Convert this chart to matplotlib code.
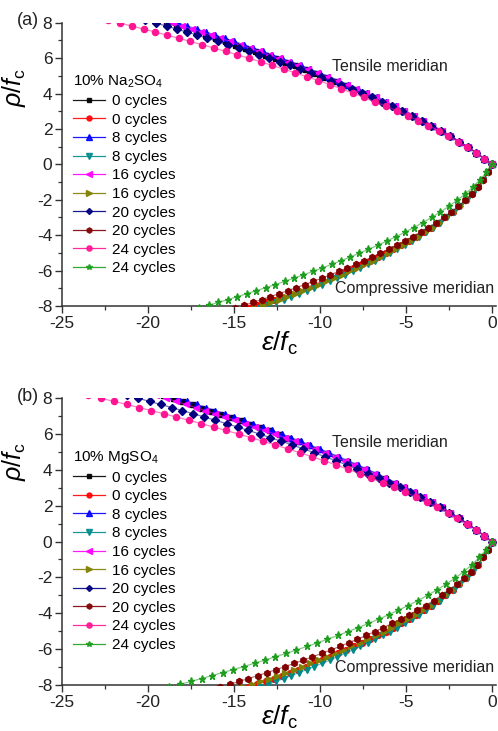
import matplotlib
matplotlib.use('Agg')
import matplotlib.pyplot as plt
from matplotlib.ticker import MultipleLocator

plt.rcParams['font.family'] = ['Liberation Sans', 'DejaVu Sans']
plt.rcParams['mathtext.fontset'] = 'custom'
plt.rcParams['mathtext.rm'] = 'Liberation Sans'
plt.rcParams['mathtext.it'] = 'Liberation Sans:italic'
plt.rcParams['axes.unicode_minus'] = False

# rho/fc levels (tensile meridian, positive) and compressive meridian (negative)
rho_tens = [0, 0.33, 0.66, 0.98, 1.29, 1.6, 1.9, 2.19, 2.47, 2.75, 3.02, 3.28, 3.54, 3.79,
            4.03, 4.27, 4.5, 4.73, 4.95, 5.17, 5.38, 5.59, 5.79, 5.99, 6.19, 6.38, 6.57,
            6.76, 6.94, 7.12, 7.3, 7.47, 7.64, 7.81, 7.98, 8.15]
rho_comp = [0, -0.46, -0.89, -1.3, -1.68, -2.04, -2.38, -2.7, -3.0, -3.29, -3.57, -3.83,
            -4.08, -4.33, -4.57, -4.8, -5.02, -5.24, -5.45, -5.65, -5.85, -6.05, -6.24,
            -6.43, -6.61, -6.79, -6.97, -7.14, -7.31, -7.48, -7.64, -7.8, -7.96, -8.12,
            -8.28, -8.44]

# ---- panel (a) 10% Na2SO4 : eps/fc values ----
na_t0 = [0, -0.44, -0.91, -1.39, -1.89, -2.41, -2.94, -3.48, -4.02, -4.58, -5.14, -5.69, -6.27, -6.84, -7.41, -7.99, -8.56, -9.14, -9.72, -10.30, -10.88, -11.46, -12.03, -12.61, -13.20, -13.77, -14.35, -14.93, -15.50, -16.08, -16.66, -17.23, -17.79, -18.37, -18.95, -19.55]
na_c0 = [0, -0.22, -0.49, -0.80, -1.14, -1.50, -1.89, -2.28, -2.69, -3.10, -3.53, -3.95, -4.38, -4.83, -5.27, -5.72, -6.17, -6.63, -7.08, -7.53, -7.99, -8.46, -8.92, -9.39, -9.85, -10.32, -10.80, -11.27, -11.74, -12.22, -12.69, -13.16, -13.64, -14.13, -14.62, -15.13]
na_t8 = [0, -0.44, -0.91, -1.38, -1.87, -2.38, -2.90, -3.42, -3.95, -4.49, -5.04, -5.58, -6.13, -6.68, -7.23, -7.79, -8.34, -8.90, -9.45, -10.01, -10.56, -11.12, -11.66, -12.21, -12.77, -13.32, -13.87, -14.43, -14.97, -15.52, -16.08, -16.61, -17.15, -17.70, -18.25, -18.82]
na_c8 = [0, -0.22, -0.48, -0.78, -1.11, -1.46, -1.83, -2.21, -2.60, -2.99, -3.40, -3.81, -4.21, -4.64, -5.07, -5.49, -5.91, -6.35, -6.78, -7.21, -7.64, -8.09, -8.53, -8.98, -9.42, -9.86, -10.32, -10.76, -11.21, -11.66, -12.10, -12.55, -13.01, -13.47, -13.94, -14.42]
na_t16 = [0, -0.44, -0.91, -1.39, -1.88, -2.40, -2.92, -3.45, -3.98, -4.53, -5.08, -5.63, -6.20, -6.76, -7.31, -7.88, -8.44, -9.01, -9.57, -10.14, -10.70, -11.27, -11.83, -12.39, -12.97, -13.52, -14.09, -14.66, -15.21, -15.78, -16.34, -16.89, -17.44, -18.00, -18.57, -19.15]
na_c16 = [0, -0.22, -0.48, -0.79, -1.12, -1.48, -1.86, -2.25, -2.64, -3.05, -3.47, -3.88, -4.30, -4.73, -5.17, -5.61, -6.04, -6.49, -6.93, -7.37, -7.82, -8.28, -8.73, -9.19, -9.63, -10.09, -10.56, -11.01, -11.47, -11.94, -12.40, -12.85, -13.32, -13.80, -14.28, -14.77]
na_t20 = [0, -0.44, -0.91, -1.40, -1.91, -2.44, -2.97, -3.52, -4.07, -4.64, -5.22, -5.79, -6.38, -6.97, -7.55, -8.15, -8.74, -9.35, -9.94, -10.54, -11.14, -11.74, -12.33, -12.93, -13.54, -14.13, -14.73, -15.35, -15.94, -16.54, -17.14, -17.73, -18.32, -18.92, -19.53, -20.15]
na_c20 = [0, -0.22, -0.50, -0.82, -1.17, -1.55, -1.95, -2.37, -2.79, -3.23, -3.68, -4.13, -4.58, -5.05, -5.52, -6.00, -6.47, -6.96, -7.44, -7.91, -8.40, -8.90, -9.39, -9.89, -10.38, -10.88, -11.39, -11.88, -12.38, -12.90, -13.39, -13.89, -14.40, -14.92, -15.45, -15.98]
na_t24 = [0, -0.45, -0.93, -1.43, -1.96, -2.52, -3.09, -3.68, -4.27, -4.89, -5.52, -6.15, -6.80, -7.45, -8.09, -8.75, -9.41, -10.08, -10.75, -11.43, -12.09, -12.77, -13.44, -14.11, -14.81, -15.48, -16.16, -16.85, -17.53, -18.21, -18.90, -19.57, -20.25, -20.93, -21.63, -22.34]
na_c24 = [0, -0.32, -0.70, -1.11, -1.56, -2.02, -2.51, -3.00, -3.50, -4.01, -4.53, -5.04, -5.56, -6.10, -6.63, -7.17, -7.70, -8.25, -8.79, -9.31, -9.86, -10.41, -10.96, -11.51, -12.05, -12.60, -13.16, -13.71, -14.26, -14.82, -15.36, -15.91, -16.47, -17.03, -17.61, -18.20]

# ---- panel (b) 10% MgSO4 : eps/fc values ----
mg_t0 = [0, -0.44, -0.91, -1.39, -1.88, -2.40, -2.92, -3.45, -3.98, -4.53, -5.08, -5.63, -6.20, -6.76, -7.31, -7.88, -8.44, -9.01, -9.57, -10.14, -10.70, -11.27, -11.83, -12.39, -12.97, -13.52, -14.09, -14.66, -15.21, -15.78, -16.34, -16.89, -17.44, -18.00, -18.57, -19.15]
mg_c0 = [0, -0.22, -0.49, -0.80, -1.14, -1.50, -1.89, -2.28, -2.69, -3.10, -3.53, -3.95, -4.38, -4.83, -5.27, -5.72, -6.17, -6.63, -7.08, -7.53, -7.99, -8.46, -8.92, -9.39, -9.85, -10.32, -10.80, -11.27, -11.74, -12.22, -12.69, -13.16, -13.64, -14.13, -14.62, -15.13]
mg_t8 = [0, -0.44, -0.91, -1.38, -1.87, -2.38, -2.90, -3.42, -3.95, -4.49, -5.04, -5.58, -6.13, -6.68, -7.23, -7.79, -8.34, -8.90, -9.45, -10.01, -10.56, -11.12, -11.66, -12.21, -12.77, -13.32, -13.87, -14.43, -14.97, -15.52, -16.08, -16.61, -17.15, -17.70, -18.25, -18.82]
mg_c8 = [0, -0.22, -0.48, -0.78, -1.11, -1.46, -1.83, -2.21, -2.60, -2.99, -3.40, -3.81, -4.21, -4.64, -5.07, -5.49, -5.91, -6.35, -6.78, -7.21, -7.64, -8.09, -8.53, -8.98, -9.42, -9.86, -10.32, -10.76, -11.21, -11.66, -12.10, -12.55, -13.01, -13.47, -13.94, -14.42]
mg_t16 = [0, -0.44, -0.91, -1.39, -1.89, -2.41, -2.94, -3.48, -4.02, -4.58, -5.14, -5.69, -6.27, -6.84, -7.41, -7.99, -8.56, -9.14, -9.72, -10.30, -10.88, -11.46, -12.03, -12.61, -13.20, -13.77, -14.35, -14.93, -15.50, -16.08, -16.66, -17.23, -17.79, -18.37, -18.95, -19.55]
mg_c16 = [0, -0.22, -0.49, -0.81, -1.15, -1.52, -1.92, -2.32, -2.73, -3.16, -3.59, -4.03, -4.46, -4.92, -5.38, -5.84, -6.29, -6.76, -7.23, -7.69, -8.16, -8.64, -9.12, -9.60, -10.07, -10.55, -11.05, -11.52, -12.01, -12.50, -12.98, -13.46, -13.96, -14.46, -14.97, -15.49]
mg_t20 = [0, -0.44, -0.92, -1.42, -1.93, -2.48, -3.03, -3.60, -4.17, -4.77, -5.36, -5.96, -6.58, -7.20, -7.81, -8.44, -9.07, -9.70, -10.33, -10.97, -11.60, -12.24, -12.87, -13.50, -14.15, -14.78, -15.42, -16.08, -16.71, -17.35, -18.00, -18.62, -19.25, -19.90, -20.55, -21.21]
mg_c20 = [0, -0.22, -0.51, -0.84, -1.21, -1.61, -2.03, -2.47, -2.91, -3.37, -3.85, -4.32, -4.79, -5.29, -5.80, -6.30, -6.80, -7.31, -7.82, -8.33, -8.84, -9.37, -9.89, -10.43, -10.95, -11.48, -12.02, -12.54, -13.08, -13.62, -14.15, -14.68, -15.22, -15.78, -16.34, -16.91]
mg_t24 = [0, -0.45, -0.94, -1.45, -1.99, -2.56, -3.16, -3.76, -4.38, -5.02, -5.67, -6.33, -7.01, -7.69, -8.37, -9.06, -9.75, -10.46, -11.16, -11.88, -12.58, -13.30, -14.01, -14.72, -15.46, -16.17, -16.89, -17.63, -18.35, -19.07, -19.81, -20.52, -21.24, -21.97, -22.71, -23.47]
mg_c24 = [0, -0.33, -0.72, -1.16, -1.63, -2.13, -2.65, -3.19, -3.73, -4.29, -4.86, -5.43, -5.99, -6.58, -7.18, -7.77, -8.35, -8.96, -9.56, -10.14, -10.75, -11.36, -11.97, -12.59, -13.19, -13.80, -14.43, -15.03, -15.65, -16.28, -16.88, -17.49, -18.11, -18.75, -19.39, -20.05]

series_labels = ['0 cycles', '0 cycles', '8 cycles', '8 cycles', '16 cycles', '16 cycles',
                 '20 cycles', '20 cycles', '24 cycles', '24 cycles']
series_colors = ['#000000', '#FF0000', '#0000FF', '#008B8B', '#FF00FF', '#808000',
                 '#000080', '#800000', '#FF1493', '#1E9E1E']
series_markers = ['s', 'o', '^', 'v', '<', '>', 'D', 'h', 'o', '*']
series_ms = [3.6, 4.2, 4.6, 4.6, 4.6, 4.6, 3.6, 4.4, 4.4, 5.2]

panels = [
    dict(tag='(a)', title='10% Na$_2$SO$_4$', xlab_y=-0.085, ylab_y=0.77,
         x=[na_t0, na_c0, na_t8, na_c8, na_t16, na_c16, na_t20, na_c20, na_t24, na_c24]),
    dict(tag='(b)', title='10% MgSO$_4$', xlab_y=-0.065, ylab_y=0.78,
         x=[mg_t0, mg_c0, mg_t8, mg_c8, mg_t16, mg_c16, mg_t20, mg_c20, mg_t24, mg_c24]),
]

W, H = 498, 731
fig = plt.figure(figsize=(W / 100, H / 100), dpi=100)
ax_px = [(62, 22.7, 496, 306), (62, 398, 496, 685)]

for p, (l, t, r, b) in zip(panels, ax_px):
    ax = fig.add_axes([l / W, 1 - b / H, (r - l) / W, (b - t) / H])
    for i, xs in enumerate(p['x']):
        ys = rho_tens if i % 2 == 0 else rho_comp
        ax.plot(xs, ys, color=series_colors[i], lw=0.9, alpha=0.55, zorder=2 + i)
        ax.plot(xs, ys, ls='none', marker=series_markers[i], ms=series_ms[i],
                color=series_colors[i], mec=series_colors[i], zorder=2 + i)
    handles = []
    for i in range(10):
        h, = ax.plot([], [], color=series_colors[i], lw=0.9, marker=series_markers[i],
                     ms=series_ms[i] * 0.85, mec=series_colors[i])
        handles.append(h)
    ax.set_xlim(-25, 0.25)
    ax.set_ylim(-8, 8)
    ax.xaxis.set_major_locator(MultipleLocator(5))
    ax.xaxis.set_minor_locator(MultipleLocator(2.5))
    ax.yaxis.set_major_locator(MultipleLocator(2))
    ax.yaxis.set_minor_locator(MultipleLocator(1))
    ax.spines['top'].set_visible(False)
    ax.spines['right'].set_visible(False)
    for s in ('left', 'bottom'):
        ax.spines[s].set_linewidth(1.1)
        ax.spines[s].set_color('#333333')
    ax.tick_params(which='major', direction='out', length=5, width=1.0, labelsize=12.5,
                   colors='#333333', labelcolor='#222222', pad=2)
    ax.tick_params(which='minor', direction='out', length=3, width=0.9, colors='#333333')
    ax.set_xlabel(r'$\varepsilon/f_{\mathrm{c}}$', fontsize=19)
    ax.set_ylabel(r'$\rho/f_{\mathrm{c}}$', fontsize=18)
    ax.xaxis.set_label_coords(0.5, p['xlab_y'])
    ax.yaxis.set_label_coords(-0.078, p['ylab_y'])
    leg = ax.legend(handles, series_labels, loc='upper left', bbox_to_anchor=(0.025, 0.822),
                    frameon=False, fontsize=11, title=p['title'], title_fontsize=11,
                    alignment='left', borderpad=0, borderaxespad=0, labelspacing=0.3,
                    handlelength=2.1, handletextpad=0.45, numpoints=1)
    for lh in leg.get_lines():
        lh.set_alpha(0.9)
    ax.text(-5.9, 5.5, 'Tensile meridian', fontsize=11.5, ha='center', va='center',
            color='#222222')
    ax.text(-4.5, -7.0, 'Compressive meridian', fontsize=11.5, ha='center', va='center',
            color='#222222')
    fig.text(28 / W, 1 - (t - 2) / H, p['tag'], fontsize=13, ha='center', va='center',
             color='#222222')

fig.savefig('out.png', dpi=100)
